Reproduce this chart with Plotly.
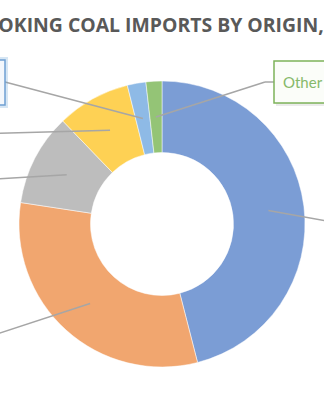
import math
import plotly.graph_objects as go

# ---- data ----
origins = ["Mongolia", "Australia", "Russia", "Canada", "USA", "Other"]
shares = [46.0, 31.4, 10.4, 8.3, 2.1, 1.8]
slice_colors = ["#7B9DD5", "#F1A66F", "#BDBDBD", "#FED154", "#8EBAE6", "#94C476"]
title_text = "COKING COAL IMPORTS BY ORIGIN, 2019"

# ---- layout geometry (pixels) ----
W, H = 324, 400
CX, CY, R_OUT = 162, 224, 143
HOLE = 0.50


def px(x):
    return x / W


def py(y):
    return 1 - y / H


fig = go.Figure()
fig.add_trace(go.Pie(
    labels=origins,
    values=shares,
    hole=HOLE,
    sort=False,
    direction="clockwise",
    rotation=0,
    textinfo="none",
    hoverinfo="label+percent",
    marker=dict(colors=slice_colors, line=dict(color="white", width=0.5)),
    domain=dict(x=[px(CX - R_OUT), px(CX + R_OUT)],
                y=[py(CY + R_OUT), py(CY - R_OUT)]),
    showlegend=False,
))

# leader-line anchor points at slice mid-angles (computed from the data)
total = sum(shares)
r_mid = R_OUT * (1 + HOLE) / 2
anchors = []
acc = 0.0
for v in shares:
    mid = (acc + v / 2) / total * 2 * math.pi
    acc += v
    anchors.append((CX + r_mid * math.sin(mid), CY - r_mid * math.cos(mid)))

# label-side endpoints of each leader (layout positions)
label_ends = [(360, 227), (-40, 346), (-40, 181), (-40, 134.5), (5, 82), (265, 82)]

shapes = []
line_style = dict(color="#A6A6A6", width=1.5)
for (ax, ay), (lx, ly) in zip(anchors, label_ends):
    shapes.append(dict(type="line", xref="paper", yref="paper",
                       x0=px(ax), y0=py(ay), x1=px(lx), y1=py(ly), line=line_style))
# elbow for "Other"
shapes.append(dict(type="line", xref="paper", yref="paper",
                   x0=px(265), y0=py(82), x1=px(274), y1=py(82), line=line_style))

# label boxes (shadow + box)
shapes.append(dict(type="rect", xref="paper", yref="paper",
                   x0=px(-80), x1=px(6.5), y0=py(106.5), y1=py(58.5),
                   line=dict(color="rgba(91,155,213,0.25)", width=3), fillcolor="rgba(0,0,0,0)"))
shapes.append(dict(type="rect", xref="paper", yref="paper",
                   x0=px(-80), x1=px(5), y0=py(105), y1=py(60),
                   line=dict(color="#6FA0D2", width=1.5), fillcolor="#F3F7FC"))
shapes.append(dict(type="rect", xref="paper", yref="paper",
                   x0=px(276), x1=px(340), y0=py(106), y1=py(64),
                   line=dict(width=0), fillcolor="rgba(0,0,0,0.08)"))
shapes.append(dict(type="rect", xref="paper", yref="paper",
                   x0=px(274), x1=px(340), y0=py(103), y1=py(61),
                   line=dict(color="#7DB35A", width=1.5), fillcolor="#FBFDF9"))

annotations = [
    dict(text=title_text, xref="paper", yref="paper", x=px(-16), y=py(24),
         xanchor="left", yanchor="middle", showarrow=False,
         font=dict(family="Open Sans", size=19.4, color="#595959", weight="bold")),
    dict(text="Other", xref="paper", yref="paper", x=px(281), y=py(82),
         xanchor="left", yanchor="middle", showarrow=False,
         font=dict(family="Lato", size=15, color="#86B96A")),
]

fig.update_layout(
    width=W, height=H,
    margin=dict(l=0, r=0, t=0, b=0),
    paper_bgcolor="white",
    plot_bgcolor="white",
    shapes=shapes,
    annotations=annotations,
)

fig.write_html("out.html")
